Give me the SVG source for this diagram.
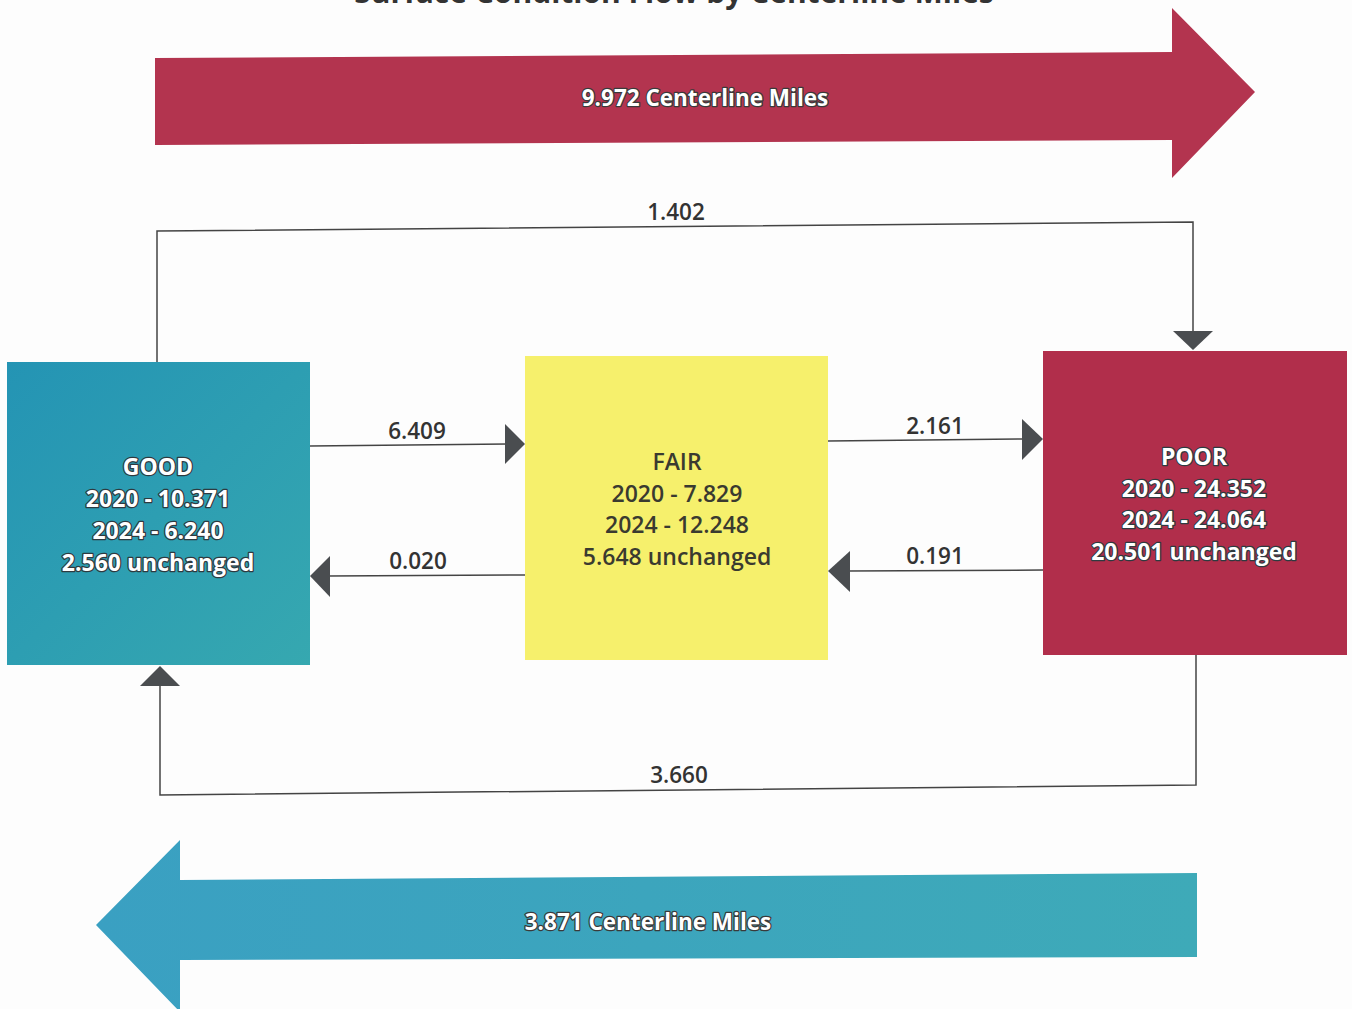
<svg xmlns="http://www.w3.org/2000/svg" width="1352" height="1009" viewBox="0 0 1352 1009">
<defs>
<style>
.title{font-family:"Open Sans","Liberation Sans",sans-serif;font-weight:bold;font-size:30px;fill:#333;text-anchor:middle}
.big{font-family:"Open Sans","Liberation Sans",sans-serif;font-weight:bold;font-size:22.5px;fill:#fff;text-anchor:middle;stroke:#3a3a3a;stroke-width:2.5px;paint-order:stroke;stroke-linejoin:round}
.nt{font-family:"Open Sans","Liberation Sans",sans-serif;font-weight:bold;font-size:23px;fill:#fff;text-anchor:middle;stroke:#2e3a40;stroke-width:2.5px;paint-order:stroke;stroke-linejoin:round}
.ntd{font-family:"Open Sans","Liberation Sans",sans-serif;font-weight:600;font-size:23px;fill:#3a3a30;text-anchor:middle}
.lbl{font-family:"Open Sans","Liberation Sans",sans-serif;font-weight:600;font-size:22.5px;fill:#333;text-anchor:middle}
.ln{fill:none;stroke:#444;stroke-width:1.5}
.ah{fill:#4a4d50}
</style>
<linearGradient id="teal" x1="0" y1="0" x2="1" y2="1">
<stop offset="0" stop-color="#2494b4"/>
<stop offset="1" stop-color="#36a8b0"/>
</linearGradient>
<linearGradient id="tealArr" x1="0" y1="0" x2="1" y2="0">
<stop offset="0" stop-color="#3aa0c2"/>
<stop offset="1" stop-color="#3eaab8"/>
</linearGradient>
</defs>
<rect width="1352" height="1009" fill="#fdfdfd"/>
<text class="title" x="674" y="3">Surface Condition Flow by Centerline Miles</text>

<g id="top-arrow">
<polygon points="155,58 1172,52 1172,8 1255,92 1172,178 1172,140 155,145" fill="#b3344f"/>
<text class="big" x="705" y="106">9.972 Centerline Miles</text>
</g>

<g id="bottom-arrow">
<polygon points="1197,873 180,880 180,840 96,925 180,1012 180,960 1197,957" fill="url(#tealArr)"/>
<text class="big" x="648" y="930">3.871 Centerline Miles</text>
</g>

<g id="connectors">
<polyline class="ln" points="157,362 157,231 1193,222 1193,333"/>
<polygon class="ah" points="1173,331 1213,331 1193,350"/>
<text class="lbl" x="676" y="220">1.402</text>

<line class="ln" x1="310" y1="446" x2="507" y2="444"/>
<polygon class="ah" points="505,424 525,444 505,464"/>
<text class="lbl" x="417" y="439">6.409</text>

<line class="ln" x1="828" y1="441" x2="1024" y2="439"/>
<polygon class="ah" points="1022,419 1043,439 1022,460"/>
<text class="lbl" x="935" y="434">2.161</text>

<line class="ln" x1="525" y1="575" x2="328" y2="576"/>
<polygon class="ah" points="330,556 310,576 330,597"/>
<text class="lbl" x="418" y="569">0.020</text>

<line class="ln" x1="1043" y1="570" x2="848" y2="571"/>
<polygon class="ah" points="850,551 828,571 850,592"/>
<text class="lbl" x="935" y="564">0.191</text>

<polyline class="ln" points="1196,655 1196,785 160,795 160,684"/>
<polygon class="ah" points="140,686 180,686 160,666"/>
<text class="lbl" x="679" y="783">3.660</text>
</g>

<g id="node-good">
<rect x="7" y="362" width="303" height="303" fill="url(#teal)"/>
<text class="nt" x="158" y="475">GOOD</text>
<text class="nt" x="158" y="507">2020 - 10.371</text>
<text class="nt" x="158" y="539">2024 - 6.240</text>
<text class="nt" x="158" y="571">2.560 unchanged</text>
</g>

<g id="node-fair">
<rect x="525" y="356" width="303" height="304" fill="#f6f06c"/>
<text class="ntd" x="677" y="470">FAIR</text>
<text class="ntd" x="677" y="502">2020 - 7.829</text>
<text class="ntd" x="677" y="533">2024 - 12.248</text>
<text class="ntd" x="677" y="565">5.648 unchanged</text>
</g>

<g id="node-poor">
<rect x="1043" y="351" width="304" height="304" fill="#b12e4b"/>
<text class="nt" x="1194" y="465">POOR</text>
<text class="nt" x="1194" y="497">2020 - 24.352</text>
<text class="nt" x="1194" y="528">2024 - 24.064</text>
<text class="nt" x="1194" y="560">20.501 unchanged</text>
</g>
</svg>
